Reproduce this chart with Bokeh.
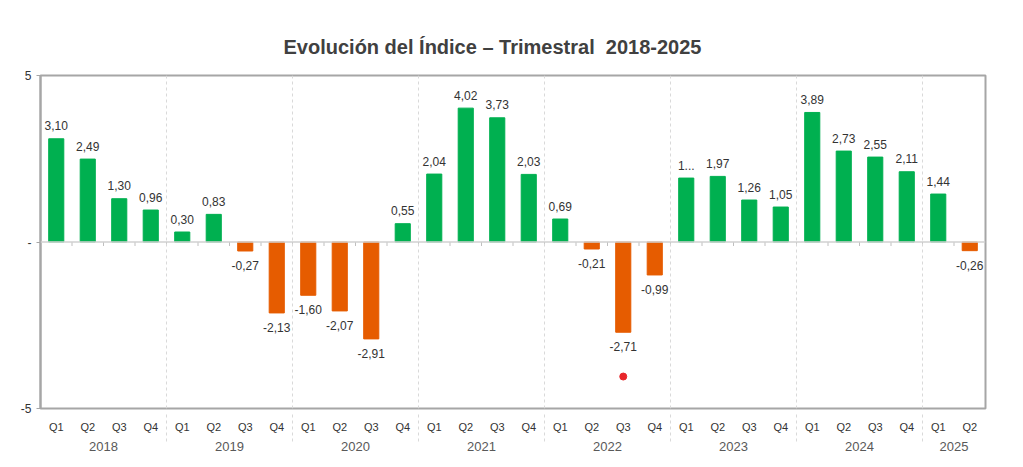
from bokeh.plotting import figure
from bokeh.models import (FactorRange, Range1d, FixedTicker, CustomJSTickFormatter,
                          Span, ColumnDataSource, CategoricalAxis)
from bokeh.core.properties import value
from bokeh.embed import file_html
from bokeh.resources import INLINE

years = ["2018", "2019", "2020", "2021", "2022", "2023", "2024", "2025"]
quarters = ["Q1", "Q2", "Q3", "Q4"]
values = [3.10, 2.49, 1.30, 0.96,
          0.30, 0.83, -0.27, -2.13,
          -1.60, -2.07, -2.91, 0.55,
          2.04, 4.02, 3.73, 2.03,
          0.69, -0.21, -2.71, -0.99,
          1.92, 1.97, 1.26, 1.05,
          3.89, 2.73, 2.55, 2.11,
          1.44, -0.26]
labels = ["3,10", "2,49", "1,30", "0,96",
          "0,30", "0,83", "-0,27", "-2,13",
          "-1,60", "-2,07", "-2,91", "0,55",
          "2,04", "4,02", "3,73", "2,03",
          "0,69", "-0,21", "-2,71", "-0,99",
          "1...", "1,97", "1,26", "1,05",
          "3,89", "2,73", "2,55", "2,11",
          "1,44", "-0,26"]
marker_factor = ("2022", "Q3")
marker_value = [-4.04]
y_ticks = [-5, 0, 5]

factors = [(y, q) for y in years for q in quarters][:len(values)]

GREEN = "#00b050"
ORANGE = "#e65c00"
FONT = "Liberation Sans"

x_range = FactorRange(*factors, factor_padding=0, group_padding=0, range_padding=0)
p = figure(width=1015, height=459, x_range=x_range, y_range=Range1d(-5, 5),
           output_backend="svg", toolbar_location=None,
           x_axis_location=None, y_axis_location="left",
           min_border_left=40, min_border_right=30, min_border_top=75,
           min_border_bottom=51)

p.title.text = "Evolución del Índice – Trimestral\u00a0 2018-2025"
p.title.align = "left"
p.title.text_font = FONT
p.title.text_font_size = "20px"
p.title.text_font_style = "bold"
p.title.text_color = "#404040"
p.title.standoff = 36
p.title.offset = 243

p.outline_line_color = "#a6a6a6"
p.outline_line_width = 2
p.xgrid.visible = False
p.ygrid.visible = False
p.background_fill_color = "white"
p.border_fill_color = "white"

# y axis
ya = p.yaxis[0]
ya.ticker = FixedTicker(ticks=y_ticks)
ya.formatter = CustomJSTickFormatter(code="return tick == 0 ? '-' : tick.toFixed(0);")
ya.axis_line_color = "#a6a6a6"
ya.axis_line_width = 2
ya.major_tick_out = 4
ya.major_tick_in = 0
ya.major_tick_line_color = "#a6a6a6"
ya.minor_tick_line_color = None
ya.major_label_standoff = 5
ya.major_label_text_font = FONT
ya.major_label_text_font_size = "12px"
ya.major_label_text_color = "#333333"

# x axis (nested categorical)
xa = CategoricalAxis()
xa.axis_line_color = None
xa.major_tick_line_color = None
xa.minor_tick_line_color = None
xa.major_label_standoff = 6
xa.major_label_text_font = FONT
xa.major_label_text_font_size = "11px"
xa.major_label_text_color = "#333333"
xa.group_text_font = FONT
xa.group_text_font_size = "13px"
xa.group_text_font_style = "normal"
xa.group_text_color = "#595959"
xa.separator_line_color = "#d9d9d9"
xa.separator_line_width = 1
xa.separator_line_dash = "3 3"
p.add_layout(xa, "below")

# year separators inside the frame
n = len(values)
for b in range(len(quarters), n, len(quarters)):
    p.add_layout(Span(location=b, dimension="height", line_color="#d9d9d9",
                      line_width=1, line_dash="3 3"))

# zero line with small ticks between categories
p.add_layout(Span(location=0, dimension="width", line_color="#d0d0d0", line_width=1.5))
p.segment(x0=list(range(1, n)), x1=list(range(1, n)), y0=[0] * (n - 1),
          y1=[-0.12] * (n - 1), line_color="#bfbfbf", line_width=1)

colors = [GREEN if v >= 0 else ORANGE for v in values]
src = ColumnDataSource(dict(x=factors, top=values, color=colors, label=labels))
p.vbar(x="x", top="top", bottom=0, width=0.48, color="color", source=src)

pos = ColumnDataSource(dict(x=[f for f, v in zip(factors, values) if v >= 0],
                            y=[v for v in values if v >= 0],
                            t=[l for l, v in zip(labels, values) if v >= 0]))
neg = ColumnDataSource(dict(x=[f for f, v in zip(factors, values) if v < 0],
                            y=[v for v in values if v < 0],
                            t=[l for l, v in zip(labels, values) if v < 0]))
p.text(x="x", y="y", text="t", source=pos, text_align="center",
       text_baseline="alphabetic", y_offset=-13, text_font=value(FONT),
       text_font_size="12px", text_color="#333333")
p.text(x="x", y="y", text="t", source=neg, text_align="center",
       text_baseline="top", y_offset=10, text_font=value(FONT),
       text_font_size="12px", text_color="#333333")

p.scatter(x=[marker_factor], y=marker_value, size=7, color="#e8262b")

open("out.html", "w").write(file_html(p, INLINE))
